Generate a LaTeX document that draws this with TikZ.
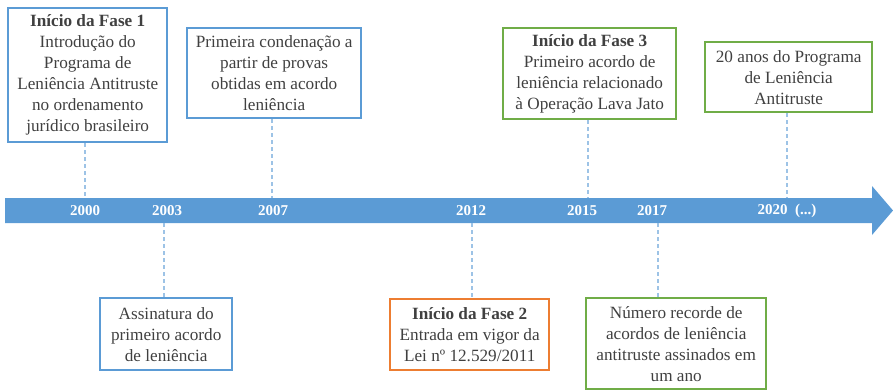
\documentclass[tikz,border=0pt]{standalone}
\usepackage{fontspec}
\setmainfont{Liberation Serif}
\usetikzlibrary{positioning}
\definecolor{fblue}{HTML}{5B9BD5}
\definecolor{fgreen}{HTML}{70AD47}
\definecolor{forange}{HTML}{ED7D31}
\definecolor{fdash}{HTML}{9DC3E6}
\definecolor{ftext}{HTML}{404040}
\tikzset{
	event/.style={draw=#1, line width=2.4pt, text=ftext, align=center, inner sep=1pt, anchor=north west, font=\fontsize{17.2}{21}\selectfont},
	year/.style={text=white, font=\bfseries\fontsize{15}{15}\selectfont},
	link/.style={fdash, line width=1.1pt, dash pattern=on 4pt off 3pt}
}

\begin{document}
\begin{tikzpicture}[x=1pt, y=-1pt]
	\useasboundingbox (0,0) rectangle (893,389);
	% time axis
	\fill[fblue] (5,198) -- (872,198) -- (872,186) -- (893,210.5) -- (872,235) -- (872,223) -- (5,223) -- cycle;
	\foreach \yr/\x in {2000/85, 2003/167, 2007/273, 2012/471, 2015/582, 2017/652}{
		\node[year] (y\yr) at (\x,211) {\yr};
	}
	\node[year] (y2020) at (787,211) {2020\enspace(...)};

	% ticks on the axis
	\foreach \yr/\x in {2000/85, 2007/272, 2015/588, 2020/787}{
		\coordinate (t\yr) at (\x,198);
	}
	\foreach \yr/\x in {2003/164, 2012/472, 2017/658}{
		\coordinate (t\yr) at (\x,223);
	}

	% events above
	\node[event=fblue, minimum width=159pt, minimum height=134pt] (b2000) at (7,7)
		{\textbf{Início da Fase 1}\\Introdução do\\Programa de\\Leniência Antitruste\\no ordenamento\\jurídico brasileiro};
	\node[event=fblue, minimum width=174pt, minimum height=90pt] (b2007) at (186,27)
		{Primeira condenação a\\partir de provas\\obtidas em acordo\\leniência};
	\node[event=fgreen, minimum width=173pt, minimum height=91pt] (b2015) at (502,27)
		{\textbf{Início da Fase 3}\\Primeiro acordo de\\leniência relacionado\\à Operação Lava Jato};
	\node[event=fgreen, minimum width=167pt, minimum height=70pt] (b2020) at (704,41)
		{20 anos do Programa\\de Leniência\\Antitruste};

	% events below
	\node[event=fblue, minimum width=132pt, minimum height=72pt] (b2003) at (99,297)
		{Assinatura do\\primeiro acordo\\de leniência};
	\node[event=forange, minimum width=159pt, minimum height=71pt] (b2012) at (389,298)
		{\textbf{Início da Fase 2}\\Entrada em vigor da\\Lei nº 12.529/2011};
	\node[event=fgreen, minimum width=180pt, minimum height=91pt] (b2017) at (585,297)
		{Número recorde de\\acordos de leniência\\antitruste assinados em\\um ano};

	\foreach \yr in {2000, 2007, 2015, 2020}{
		\draw[link] (b\yr.south -| t\yr) -- (t\yr);
	}
	\foreach \yr in {2003, 2012, 2017}{
		\draw[link] (t\yr) -- (t\yr |- b\yr.north);
	}
\end{tikzpicture}
\end{document}
